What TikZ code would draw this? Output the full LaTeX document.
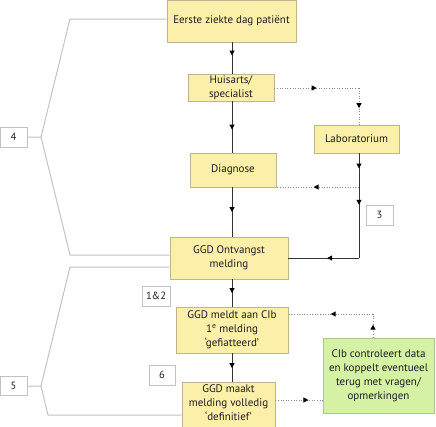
\documentclass[tikz,border=0pt]{standalone}
\usepackage{fontspec}
\setmainfont{PT Sans}
\usetikzlibrary{arrows.meta,decorations.markings}
\definecolor{yfill}{HTML}{FBEFA9}
\definecolor{ydraw}{HTML}{BFB58C}
\definecolor{gfill}{HTML}{D5F1A3}
\definecolor{gdraw}{HTML}{A8C98A}
\definecolor{brk}{HTML}{C2C2C2}
\definecolor{txt}{HTML}{1E1E1E}
\definecolor{dotc}{HTML}{8A8A8A}
\tikzset{
  ybox/.style={draw=ydraw, fill=yfill, line width=0.8pt, align=center, text=txt, inner sep=0pt, font=\fontsize{11}{14}\selectfont},
  gbox/.style={draw=gdraw, fill=gfill, line width=0.8pt, align=center, text=txt, inner sep=0pt, font=\fontsize{11}{14}\selectfont},
  numbox/.style={draw=brk, fill=white, line width=0.8pt, text=txt, inner sep=0pt, font=\fontsize{10.5}{12}\selectfont},
  bracket/.style={draw=brk, line width=1pt},
  flow/.style={draw=black!80, line width=1pt},
  dotflow/.style={draw=dotc, line width=1pt, dash pattern=on 1pt off 1.6pt},
  arrowat/.style={postaction={decorate,decoration={markings,mark=at position #1 with {\arrow[black]{Triangle[length=5pt,width=5pt]}}}}},
}
\begin{document}
\begin{tikzpicture}[x=1pt,y=-1pt]
\useasboundingbox (0,0) rectangle (436,426);
\begin{scope}
\clip (0,0) rectangle (436,426);
% yellow boxes
\node[ybox, minimum width=129pt, minimum height=42pt] (b1) at (231.5,21) {Eerste ziekte dag patiënt};
\node[ybox, minimum width=86pt, minimum height=27pt] (b2) at (231,87.5) {Huisarts/\\specialist};
\node[ybox, minimum width=86pt, minimum height=34pt] (b3) at (233,170) {Diagnose};
\node[ybox, minimum width=85pt, minimum height=28pt] (lab) at (356.5,139) {Laboratorium};
\node[ybox, minimum width=118pt, minimum height=42pt] (b4) at (229,258) {GGD Ontvangst\\melding};
\node[ybox, minimum width=112pt, minimum height=46pt] (b5) at (232,330) {GGD meldt aan CIb\\1\textsuperscript{e} melding\\‘gefiatteerd’};
\node[ybox, minimum width=93pt, minimum height=50pt] (b6) at (228.5,407) {};
\node[text=txt, align=center, inner sep=0pt, font=\fontsize{11}{14}\selectfont] (b6t) at (b6.center |- 0,403) {GGD maakt\\melding volledig\\‘definitief’};
\node[gbox, minimum width=111pt, minimum height=75pt] (cib) at (378.5,375.5) {CIb controleert data\\en koppelt eventueel\\terug met vragen/\\opmerkingen};
% number boxes
\node[numbox, minimum width=27pt, minimum height=20pt] (n4) at (13.5,137) {4};
\node[numbox, minimum width=27pt, minimum height=19pt] (n5) at (13.5,386) {5};
\node[numbox, minimum width=27pt, minimum height=20pt] (n3) at (379.5,215) {3};
\node[numbox, minimum width=28pt, minimum height=20pt] (n12) at (156,296) {1\&2};
\node[numbox, minimum width=26pt, minimum height=20pt] (n6) at (162,375) {6};
% coordinates
\coordinate (sp) at (232,0);
\coordinate (lx) at (359,0);
\coordinate (j1) at (359,88);
\coordinate (j2) at (359,187);
\coordinate (j3) at (359,258);
\coordinate (j4) at (373,314);
\coordinate (k1) at (41,137);
\coordinate (k2) at (70,19);
\coordinate (k3) at (70,255);
\coordinate (m1) at (41,386);
\coordinate (m2) at (70,267);
\coordinate (m3) at (48,415);
% brackets
\draw[bracket] (n4.east) -- (k1) -- (k2) -- (b1.west |- k2);
\draw[bracket] (k1) -- (k3) -- (b4.west |- k3);
\draw[bracket] (n5.east) -- (m1) -- (m2) -- (b4.west |- m2);
\draw[bracket] (m1) -- (m3) -- (b6.west |- m3);
% main spine
\draw[flow, arrowat=0.42] (b1.south -| sp) -- (b2.north -| sp);
\draw[flow, arrowat=0.55] (b2.south -| sp) -- (b3.north -| sp);
\draw[flow, arrowat=0.5] (b3.south -| sp) -- (b4.north -| sp);
\draw[flow, arrowat=0.5] (b4.south -| sp) -- (b5.north -| sp);
\draw[flow, arrowat=0.52] (b5.south -| sp) -- (b6.north -| sp);
% lab path
\draw[flow, arrowat=0.45] (lab.south -| lx) -- (j2);
\draw[flow, arrowat=0.25] (j2) -- (j3);
\draw[flow, arrowat=0.45] (j3) -- (b4.east |- j3);
% dotted
\draw[dotflow, arrowat=0.5] (b2.east |- j1) -- (j1);
\draw[dotflow, arrowat=0.55] (j1) -- (lab.north -| lx);
\draw[dotflow, arrowat=0.55] (j2) -- (b3.east |- j2);
\draw[dotflow, arrowat=0.7] (b6.east |- 0,400) -- (cib.west |- 0,400);
\draw[dotflow, arrowat=0.55] (cib.north -| j4) -- (j4);
\draw[dotflow, arrowat=0.5] (j4) -- (b5.east |- j4);
\end{scope}
\end{tikzpicture}
\end{document}
